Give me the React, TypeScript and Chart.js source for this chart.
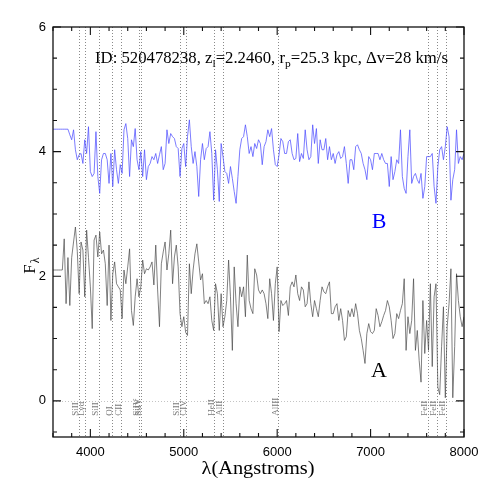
import React, { useEffect, useRef } from "react";
import { Chart, registerables } from "chart.js";
Chart.register(...registerables);

const WAVE_START = 3600;
const WAVE_STEP = 20;

const FLUX_A = [
  2.10, 2.10, 2.10, 2.10, 2.10, 2.10,
  2.60, 1.56, 2.30, 1.53, 2.30, 2.55, 2.79, 2.40, 1.72, 2.55,
  2.42, 1.67, 2.74, 2.30, 1.83, 1.16, 2.58, 2.66, 2.31, 2.71,
  2.36, 2.42, 2.20, 1.53, 2.50, 1.29, 2.04, 2.23, 1.88, 1.83,
  1.78, 1.32, 2.10, 1.88, 2.15, 2.44, 1.45, 1.21, 1.67, 1.96,
  1.67, 1.83, 2.26, 2.04, 2.12, 2.10, 2.15, 2.23, 1.86, 2.50,
  1.78, 1.19, 2.20, 2.39, 2.55, 2.10, 2.36, 2.74, 1.88, 2.31,
  2.50, 2.15, 1.40, 1.19, 1.35, 1.10, 1.05, 2.20, 1.72, 2.10,
  2.36, 2.52, 2.23, 1.94, 2.04, 1.56, 1.61, 1.56, 1.67, 1.29,
  1.13, 1.88, 1.72, 1.13, 1.72, 1.19, 1.35, 1.61, 2.26, 1.67,
  0.81, 2.15, 1.56, 1.19, 1.83, 1.67, 1.83, 1.35, 2.34, 1.61,
  1.48, 1.40, 2.12, 2.02, 1.78, 1.72, 1.78, 1.72, 1.56, 1.32,
  1.96, 1.72, 1.29, 1.88, 2.15, 1.11, 1.61, 1.53, 1.56, 1.61,
  1.37, 1.83, 1.91, 1.83, 2.02, 1.72, 1.61, 1.83, 1.78, 1.51,
  1.56, 1.91, 1.56, 1.35, 1.61, 1.48, 1.35, 1.61, 1.83, 1.75,
  1.72, 1.83, 1.91, 1.40, 1.40, 1.51, 1.56, 1.29, 1.48, 1.29,
  0.97, 1.03, 1.45, 1.35, 1.48, 1.35, 1.56, 1.40, 1.13, 1.00,
  0.81, 0.60, 1.08, 1.24, 1.11, 1.08, 1.13, 1.48, 1.37, 1.19,
  1.27, 1.37, 1.45, 1.61, 1.51, 1.29, 1.00, 1.08, 1.40, 1.32,
  1.45, 1.56, 1.96, 0.81, 1.35, 1.08, 1.29, 1.96, 0.81, 1.13,
  0.65, 0.30, 1.61, 0.76, 1.29, 0.81, 1.88, 0.55, 1.67, 1.88,
  0.22, 0.10, 0.87, 1.51, 0.05, 1.19, 1.56, 2.12, 0.05, 0.87,
  2.04, 1.61, 1.35, 1.19, 1.35,
];

const FLUX_B = [
  4.36, 4.36, 4.36, 4.36, 4.36, 4.36, 4.36, 4.36, 4.36,
  4.27, 4.19, 4.35, 4.03, 3.87, 3.95, 3.97, 3.81, 4.19, 3.97,
  4.40, 3.68, 3.60, 3.65, 4.32, 3.60, 3.33, 3.87, 3.97, 3.97,
  3.87, 3.49, 3.97, 3.44, 4.03, 3.71, 3.49, 3.79, 3.65, 4.35,
  4.45, 4.21, 3.60, 4.19, 4.08, 4.37, 3.87, 3.71, 4.00, 3.60,
  4.03, 3.55, 3.76, 3.81, 3.92, 3.87, 3.97, 3.81, 3.95, 4.08,
  3.71, 3.81, 4.35, 4.13, 4.29, 4.24, 4.21, 4.08, 4.05, 3.60,
  4.05, 4.13, 3.76, 4.24, 4.51, 4.08, 3.81, 4.00, 3.76, 3.28,
  3.87, 4.13, 3.87, 4.05, 4.08, 4.32, 3.97, 3.22, 4.03, 3.71,
  3.20, 4.13, 3.92, 3.68, 3.65, 3.49, 3.76, 3.57, 3.36, 3.17,
  3.60, 4.03, 4.21, 4.24, 4.43, 4.24, 3.97, 4.08, 3.92, 4.13,
  4.05, 4.19, 4.13, 3.79, 4.08, 4.16, 4.35, 4.24, 4.37, 4.03,
  3.79, 3.76, 3.95, 4.21, 4.16, 3.97, 3.97, 4.16, 4.19, 3.97,
  3.87, 3.89, 4.29, 3.84, 3.97, 3.89, 4.35, 4.03, 3.87, 3.92,
  4.43, 4.13, 4.37, 3.81, 4.19, 4.03, 4.03, 4.21, 3.87, 4.08,
  3.87, 3.97, 3.81, 3.95, 4.00, 3.89, 3.92, 4.08, 3.81, 3.49,
  3.87, 3.87, 3.71, 4.08, 4.11, 4.03, 3.97, 3.81, 3.71, 3.55,
  3.92, 3.87, 3.71, 3.97, 3.97, 3.97, 3.87, 3.97, 3.87, 3.81,
  3.81, 3.44, 3.92, 3.55, 3.68, 3.87, 3.81, 4.35, 3.60, 3.41,
  3.33, 3.92, 4.35, 3.49, 3.60, 3.65, 3.55, 3.49, 3.65, 3.25,
  3.44, 3.92, 3.92, 3.92, 3.97, 3.44, 3.17, 3.76, 4.03, 4.08,
  3.87, 4.08, 4.40, 4.24, 3.22, 3.55, 3.71, 4.35, 3.81, 3.92,
  3.87, 3.97,
];

const LINE_WAVES = [3875, 3939, 4092, 4232, 4332, 4521, 4547, 4957, 5029, 5325, 5418, 6011, 7612, 7708, 7805];
const LINE_LABELS = ["SiII", "Lyα", "SiII", "OI", "CII", "SiIV", "SiIV", "SiII", "CIV", "HeII", "AlII", "AlIII", "FeII", "FeII", "FeII"];

const X_MIN = 3600;
const X_MAX = 8000;
const Y_MIN = -0.58;
const Y_MAX = 6;
const X_MAJOR = [4000, 5000, 6000, 7000, 8000];
const X_MINOR = [3600, 3800, 4200, 4400, 4600, 4800, 5200, 5400, 5600, 5800, 6200, 6400, 6600, 6800, 7200, 7400, 7600, 7800];
const Y_MAJOR = [0, 2, 4, 6];
const Y_MINOR = [-0.5, 0.5, 1, 1.5, 2.5, 3, 3.5, 4.5, 5, 5.5];

const TITLE_PARTS: [string, boolean][] = [
  ["ID: 520478238, z", false],
  ["l", true],
  ["=2.2460, r", false],
  ["p", true],
  ["=25.3 kpc, Δv=28 km/s", false],
];
const X_TITLE = "λ(Angstroms)";
const Y_TITLE_MAIN = "F";
const Y_TITLE_SUB = "λ";
const CURVE_LABELS = [
  { text: "B", x: 7090, y: 2.9, color: "#0000ff" },
  { text: "A", x: 7090, y: 0.5, color: "#000000" },
];

const SERIF = '"Liberation Serif", "DejaVu Serif", serif';
const SANS = '"Liberation Sans", "DejaVu Sans", sans-serif';

const decor = {
  id: "decor",
  beforeDatasetsDraw(chart: any) {
    const { ctx, chartArea: a, scales } = chart;
    const xs = scales.x;
    const ys = scales.y;
    ctx.save();
    ctx.beginPath();
    ctx.rect(a.left, a.top, a.right - a.left, a.bottom - a.top);
    ctx.clip();
    ctx.lineWidth = 1;
    ctx.setLineDash([1, 2]);
    ctx.strokeStyle = "#8a8a8a";
    LINE_WAVES.forEach((w) => {
      const px = Math.round(xs.getPixelForValue(w)) + 0.5;
      ctx.beginPath();
      ctx.moveTo(px, a.top);
      ctx.lineTo(px, a.bottom);
      ctx.stroke();
    });
    ctx.strokeStyle = "#c4c4c4";
    const pz = Math.round(ys.getPixelForValue(0)) + 0.5;
    ctx.beginPath();
    ctx.moveTo(a.left, pz);
    ctx.lineTo(a.right, pz);
    ctx.stroke();
    ctx.setLineDash([]);
    ctx.fillStyle = "#7a7a7a";
    ctx.font = "9px " + SERIF;
    ctx.textAlign = "left";
    ctx.textBaseline = "alphabetic";
    LINE_WAVES.forEach((w, i) => {
      const px = xs.getPixelForValue(w);
      ctx.save();
      ctx.translate(px - 0.5, ys.getPixelForValue(0) + 15);
      ctx.rotate(-Math.PI / 2);
      ctx.fillText(LINE_LABELS[i], 0, 0);
      ctx.restore();
    });
    ctx.restore();
  },
  afterDraw(chart: any) {
    const { ctx, chartArea: a, scales } = chart;
    const xs = scales.x;
    const ys = scales.y;
    ctx.save();
    ctx.strokeStyle = "#111";
    ctx.lineWidth = 1.3;
    ctx.strokeRect(a.left, a.top, a.right - a.left, a.bottom - a.top);
    ctx.lineWidth = 1.1;
    const xt = (v: number, len: number) => {
      const px = xs.getPixelForValue(v);
      ctx.beginPath();
      ctx.moveTo(px, a.bottom);
      ctx.lineTo(px, a.bottom - len);
      ctx.moveTo(px, a.top);
      ctx.lineTo(px, a.top + len);
      ctx.stroke();
    };
    const yt = (v: number, len: number) => {
      const py = ys.getPixelForValue(v);
      ctx.beginPath();
      ctx.moveTo(a.left, py);
      ctx.lineTo(a.left + len, py);
      ctx.moveTo(a.right, py);
      ctx.lineTo(a.right - len, py);
      ctx.stroke();
    };
    X_MAJOR.forEach((v) => xt(v, 8));
    X_MINOR.forEach((v) => xt(v, 4));
    Y_MAJOR.forEach((v) => yt(v, 8));
    Y_MINOR.forEach((v) => yt(v, 4));

    const mainFont = "16px " + SERIF;
    const subFont = "11px " + SERIF;
    let total = 0;
    TITLE_PARTS.forEach(([t, sub]) => {
      ctx.font = sub ? subFont : mainFont;
      total += ctx.measureText(t).width;
    });
    const targetW = 353;
    ctx.save();
    ctx.translate(95, 63);
    ctx.scale(targetW / total, 1);
    ctx.fillStyle = "#000";
    ctx.textAlign = "left";
    ctx.textBaseline = "alphabetic";
    let cx = 0;
    TITLE_PARTS.forEach(([t, sub]) => {
      ctx.font = sub ? subFont : mainFont;
      ctx.fillText(t, cx, sub ? 4 : 0);
      cx += ctx.measureText(t).width;
    });
    ctx.restore();

    ctx.font = "19px " + SERIF;
    const xw = ctx.measureText(X_TITLE).width;
    ctx.save();
    ctx.translate(258, 474);
    ctx.scale(113 / xw, 1);
    ctx.textAlign = "center";
    ctx.fillStyle = "#000";
    ctx.fillText(X_TITLE, 0, 0);
    ctx.restore();

    ctx.save();
    ctx.translate(35, 265);
    ctx.rotate(-Math.PI / 2);
    ctx.fillStyle = "#000";
    ctx.font = "17px " + SERIF;
    const fw = ctx.measureText(Y_TITLE_MAIN).width;
    ctx.textAlign = "left";
    ctx.fillText(Y_TITLE_MAIN, -fw / 2 - 4, 0);
    ctx.font = "12px " + SERIF;
    ctx.fillText(Y_TITLE_SUB, fw / 2 - 3, 4);
    ctx.restore();

    ctx.font = "22px " + SERIF;
    ctx.textAlign = "center";
    ctx.textBaseline = "alphabetic";
    CURVE_LABELS.forEach((l) => {
      ctx.fillStyle = l.color;
      ctx.fillText(l.text, xs.getPixelForValue(l.x), ys.getPixelForValue(l.y) + 7.5);
    });
    ctx.restore();
  },
};

export default function App() {
  const ref = useRef<HTMLCanvasElement>(null);
  useEffect(() => {
    document.body.style.margin = "0";
    const toPts = (arr: number[]) => arr.map((v, i) => ({ x: WAVE_START + i * WAVE_STEP, y: v }));
    const chart = new Chart(ref.current as HTMLCanvasElement, {
      type: "line",
      data: {
        datasets: [
          {
            label: "B",
            data: toPts(FLUX_B),
            borderColor: "rgba(80,80,255,0.75)",
            borderWidth: 1,
            pointRadius: 0,
            tension: 0,
          },
          {
            label: "A",
            data: toPts(FLUX_A),
            borderColor: "rgba(70,70,70,0.68)",
            borderWidth: 1,
            pointRadius: 0,
            tension: 0,
          },
        ],
      },
      options: {
        animation: false,
        responsive: false,
        maintainAspectRatio: false,
        devicePixelRatio: 1,
        layout: { padding: { left: 0, top: 27, right: 27, bottom: 0 } },
        plugins: { legend: { display: false }, tooltip: { enabled: false }, title: { display: false } },
        scales: {
          x: {
            type: "linear",
            min: X_MIN,
            max: X_MAX,
            grid: { display: false, drawTicks: false },
            border: { display: false },
            afterBuildTicks: (s: any) => {
              s.ticks = X_MAJOR.map((v) => ({ value: v }));
            },
            afterFit: (s: any) => {
              s.height = 54;
            },
            ticks: {
              padding: 8,
              color: "#000",
              font: { family: SANS, size: 13 },
              maxRotation: 0,
              autoSkip: false,
              callback: (v: any) => String(v),
            },
          },
          y: {
            type: "linear",
            min: Y_MIN,
            max: Y_MAX,
            grid: { display: false, drawTicks: false },
            border: { display: false },
            afterBuildTicks: (s: any) => {
              s.ticks = Y_MAJOR.map((v) => ({ value: v }));
            },
            afterFit: (s: any) => {
              s.width = 53;
            },
            ticks: {
              padding: 7,
              color: "#000",
              font: { family: SANS, size: 13 },
              callback: (v: any) => String(v),
            },
          },
        },
      },
      plugins: [decor],
    } as any);
    return () => chart.destroy();
  }, []);
  return (
    <div style={{ width: 491, height: 491 }}>
      <canvas ref={ref} width={491} height={491} style={{ display: "block", width: 491, height: 491 }} />
    </div>
  );
}
